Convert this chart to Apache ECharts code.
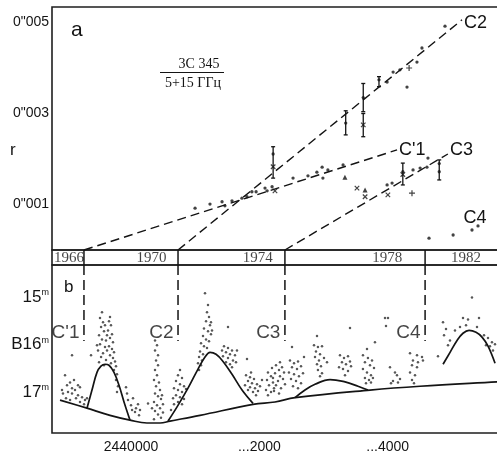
<!DOCTYPE html>
<html><head><meta charset="utf-8">
<script src="https://cdn.jsdelivr.net/npm/echarts@6/dist/echarts.min.js"></script>
<style>html,body{margin:0;padding:0;background:#fff}#c{width:497px;height:452px}</style>
</head><body><div id="c"></div>
<script>
// ---------- Panel a: r (mas) vs epoch (year) ----------
const rTicks = [1, 3, 5];
const yearLabels = ['1966', '1970', '1974', '1978', '1982'];
const yearLabelPos = [1966.85, 1970.0, 1974.05, 1979.0, 1982.0];
const ejectionYear = [1967.42, 1971.01, 1975.09, 1980.44];
const componentNames = ["C'1", 'C2', 'C3', 'C4'];

const lineC1 = [[1967.42, 0], [1979.37, 2.20]];
const lineC2 = [[1971.01, 0], [1981.85, 5.06]];
const lineC3 = [[1975.09, 0], [1981.31, 2.11]];

const dotsA = [
  [1971.66,0.92],[1972.23,1.01],[1972.69,1.06],[1972.80,0.97],[1973.07,1.08],[1973.45,1.14],
  [1973.64,1.17],[1973.83,1.28],[1973.99,1.28],[1974.33,1.36],[1974.41,1.30],[1974.60,1.39],
  [1975.40,1.58],[1975.97,1.63],[1976.31,1.71],[1976.51,1.82],[1976.54,1.58],[1976.73,1.76],[1977.31,1.87],
  [1978.99,3.69],[1979.22,3.91],[1979.48,3.96],[1980.13,4.13],[1979.75,3.58],[1980.32,4.44],[1981.20,4.92],
  [1978.99,1.43],[1979.18,1.47],[1979.98,1.76],[1980.25,1.80],[1980.51,1.82],[1980.55,2.02],
  [1980.59,0.26],[1981.51,0.33],[1982.23,0.44],[1982.46,0.53],
  [1974.64,2.11],[1977.41,2.79],[1978.08,3.35],[1978.68,3.74],[1979.59,1.72],[1980.98,1.90],[1980.98,1.72]
];
const crossesA = [[1974.71,1.30],[1977.84,1.36],[1978.15,1.17],[1979.02,1.21],[1974.64,1.83],[1978.08,2.75],[1979.59,1.66]];
const plusA = [[1979.83,4.00],[1979.94,1.25]];
const trianglesA = [[1977.38,1.60],[1978.15,1.32]];
const errorBars = [
  [1974.64,1.58,2.27],[1977.41,2.53,3.06],[1978.08,3.04,3.66],[1978.08,2.49,3.00],
  [1978.68,3.59,3.81],[1979.59,1.43,1.91],[1980.98,1.54,1.98]
];

// ---------- Panel b: B magnitude vs JD - 2440000 ----------
const magTicks = [15, 16, 17];
const jdTicks = [0, 2000, 4000];
const jdTickLabels = ['2440000', '...2000', '...4000'];

const lightCurve = [
  [-1028,16.64],[-950,16.79],[-997,16.85],[-919,16.91],[-982,16.99],[-1060,17.02],[-919,17.02],[-873,16.95],
  [-795,16.89],[-826,17.06],[-763,17.10],[-717,17.16],[-686,17.12],[-1013,17.12],[-950,17.16],[-857,17.12],
  [-795,17.20],[-732,17.25],[-1075,16.95],[-888,16.74],[-826,16.85],[-919,16.22],[-623,16.22],
  [-452,15.32],[-327,15.42],[-483,15.44],[-436,15.53],[-467,15.63],[-421,15.72],[-498,15.80],[-452,15.89],
  [-483,15.99],[-405,16.05],[-514,16.12],[-436,16.18],[-467,16.26],[-390,16.32],[-498,16.37],[-421,16.43],
  [-343,15.51],[-312,15.59],[-358,15.70],[-296,15.78],[-327,15.86],[-281,15.95],[-343,16.03],[-296,16.09],
  [-265,16.16],[-327,16.22],[-281,16.28],[-249,16.35],[-312,16.39],[-234,16.45],[-265,16.53],[-218,16.62],
  [-234,16.74],[-203,16.87],[-218,16.99],[-390,15.91],[-374,16.12],[-530,16.01],[-405,15.59],[-374,15.80],
  [-62,17.02],[-47,17.16],[0,17.27],[31,17.12],[78,17.33],[62,17.41],[109,17.25],[140,17.37],[125,17.48],
  [16,17.37],[-78,16.89],[265,17.23],
  [374,15.91],[405,16.01],[374,16.12],[421,16.22],[390,16.33],[421,16.43],[374,16.53],[405,16.64],[358,16.74],
  [436,16.79],[390,16.87],[452,16.95],[374,17.02],[421,17.08],[467,17.14],[358,17.20],[405,17.27],[452,17.33],
  [498,17.25],[374,17.39],[421,17.46],[467,17.53],[358,17.56],[498,17.42],[327,17.33],[483,17.06],
  [763,16.53],[732,16.64],[795,16.70],[701,16.76],[763,16.83],[826,16.87],[670,16.91],[732,16.95],[795,16.99],
  [857,16.93],[701,17.06],[763,17.10],[826,17.14],[655,17.12],[732,17.20],[795,17.25],[670,17.25],[623,17.37],
  [1153,14.92],[1200,15.17],[1184,15.32],[1215,15.42],[1169,15.51],[1231,15.59],[1137,15.66],[1200,15.72],
  [1246,15.78],[1122,15.82],[1169,15.89],[1215,15.93],[1091,15.97],[1137,16.03],[1184,16.07],[1075,16.14],
  [1122,16.20],[1060,16.26],[1106,16.33],[1044,16.39],[1262,15.70],[1091,16.43],[1060,16.53],[1246,15.53],
  [1511,15.63],
  [1449,16.03],[1511,16.07],[1574,16.12],[1480,16.16],[1542,16.20],[1620,16.22],[1433,16.24],[1511,16.28],
  [1589,16.33],[1480,16.37],[1542,16.41],[1636,16.37],[1574,16.47],[1651,16.12],[1418,16.12],
  [1807,16.30],
  [1792,16.64],[1854,16.68],[1916,16.72],[1823,16.76],[1885,16.81],[1963,16.83],[1776,16.85],[1854,16.89],
  [1932,16.91],[2010,16.87],[1823,16.95],[1901,16.99],[1979,16.97],[1948,17.06],[1870,16.58],[2041,16.74],
  [2134,16.58],[2181,16.66],[2119,16.74],[2212,16.79],[2150,16.85],[2228,16.91],[2103,16.95],[2181,16.99],[2134,17.06],
  [2197,16.49],[2259,16.43],[2306,16.53],[2353,16.47],[2244,16.60],[2321,16.66],[2384,16.58],[2212,16.70],
  [2290,16.76],[2368,16.72],[2259,16.85],[2337,16.91],[2228,16.97],[2306,17.02],[2399,16.83],[2321,16.37],
  [2477,16.33],[2540,16.39],[2602,16.35],[2508,16.47],[2586,16.51],[2649,16.45],[2461,16.58],[2540,16.62],
  [2617,16.66],[2680,16.60],[2493,16.72],[2571,16.76],[2649,16.81],[2524,16.87],[2602,16.91],[2508,16.05],[2695,16.26],
  [2898,15.82],[2851,16.01],[2913,16.05],[2976,16.03],[2882,16.14],[2945,16.20],[2867,16.26],[2929,16.33],
  [3007,16.28],[2898,16.41],[2960,16.45],[2913,16.53],[2976,16.60],[2945,16.66],[3054,16.37],
  [3412,15.65],
  [3256,16.22],[3319,16.28],[3381,16.24],[3287,16.37],[3350,16.41],[3412,16.35],[3241,16.47],[3303,16.51],
  [3381,16.55],[3334,16.64],[3428,16.45],
  [3801,15.95],[3677,16.09],[3614,16.22],[3692,16.28],[3755,16.33],[3645,16.37],[3724,16.43],[3786,16.49],
  [3614,16.51],[3677,16.58],[3739,16.64],[3645,16.70],[3708,16.74],[3770,16.70],[3661,16.81],[3739,16.79],
  [3957,15.44],[4004,15.44],[3973,15.61],
  [4035,16.47],[4113,16.58],[4144,16.64],[4082,16.76],[4160,16.79],[4051,16.81],[4191,16.72],
  [4347,16.18],[4456,16.22],[4534,16.26],[4393,16.33],[4471,16.37],[4549,16.33],[4378,16.43],[4456,16.47],
  [4347,16.58],[4425,16.64],[4378,16.74],[4409,16.81],
  [5313,15.01],[5173,15.44],[5251,15.47],[5422,15.44],[5220,15.59],[4861,15.53],[4908,15.67],[4877,15.80],
  [4939,16.01],[4783,16.24],[5048,15.70],[5126,15.63],[5391,15.63],[5500,15.80],[5562,15.86],[5624,15.95],
  [5593,16.03],[5671,15.99],[5531,16.01],[5640,16.12],[4970,15.91]
];

const baselineCurve = [[-1106,17.16],[-686,17.33],[-327,17.48],[-16,17.58],[249,17.64],[452,17.64],[608,17.60],
  [1075,17.48],[1901,17.25],[2244,17.20],[2556,17.11],[3724,16.95],[4503,16.87],[5703,16.78],[6108,16.75]];
const flareC1 = [[-686,17.33],[-608,16.95],[-530,16.58],[-468,16.45],[-405,16.41],[-343,16.43],[-265,16.58],
  [-187,16.85],[-109,17.20],[-16,17.58]];
const flareC2 = [[577,17.60],[732,17.27],[888,16.91],[1044,16.51],[1153,16.26],[1231,16.16],[1325,16.20],
  [1434,16.35],[1574,16.62],[1730,16.95],[1901,17.23]];
const flareC3 = [[2556,17.11],[2711,16.95],[2867,16.83],[3101,16.73],[3335,16.78],[3537,16.87],[3693,16.95]];
const flareC4 = [[4862,16.41],[4971,16.16],[5080,15.91],[5173,15.76],[5267,15.70],[5376,15.74],[5469,15.84],
  [5563,16.03],[5672,16.39]];
const markerBottomMag = 15.92;

// ---------- chart ----------
const INK = '#141414';
const SANS = 'Liberation Sans, Arial, sans-serif';
const SERIF = 'Liberation Serif, Times New Roman, serif';
const chart = echarts.init(document.getElementById('c'), null, {renderer: 'canvas'});

function vlineRender(dash, width) {
  return function (params, api) {
    const a = api.coord([api.value(0), api.value(1)]);
    const b = api.coord([api.value(0), api.value(2)]);
    return {type: 'line', shape: {x1: a[0], y1: a[1], x2: b[0], y2: b[1]},
      style: {stroke: INK, lineWidth: width, lineDash: dash}};
  };
}
function errRender(params, api) {
  const x = api.value(0);
  const a = api.coord([x, api.value(1)]);
  const b = api.coord([x, api.value(2)]);
  const st = {stroke: INK, lineWidth: 1.3};
  return {type: 'group', children: [
    {type: 'line', shape: {x1: a[0], y1: a[1], x2: b[0], y2: b[1]}, style: st},
    {type: 'line', shape: {x1: a[0] - 2, y1: a[1], x2: a[0] + 2, y2: a[1]}, style: st},
    {type: 'line', shape: {x1: b[0] - 2, y1: b[1], x2: b[0] + 2, y2: b[1]}, style: st}
  ]};
}
const dashedA = (data, name, offset) => ({
  type: 'line', xAxisIndex: 0, yAxisIndex: 0, data: data, symbol: 'none', silent: true,
  lineStyle: {color: INK, width: 1.4, type: [9, 5]},
  endLabel: {show: true, formatter: name, distance: 2, offset: offset, fontSize: 18, fontFamily: SANS, color: INK}
});
const curveB = (data) => ({
  type: 'line', xAxisIndex: 2, yAxisIndex: 2, data: data, symbol: 'none', smooth: 0.4, silent: true,
  lineStyle: {color: INK, width: 1.7}
});

const gridBase = {left: 52, right: -26.6, show: true, borderColor: '#1e1e1e', borderWidth: 1.6,
  containLabel: false, outerBoundsMode: 'none'};

chart.setOption({
  animation: false,
  backgroundColor: '#fff',
  grid: [
    Object.assign({top: 7, height: 243}, gridBase),
    Object.assign({top: 250, height: 15}, gridBase),
    Object.assign({top: 265, height: 168}, gridBase)
  ],
  xAxis: [
    {gridIndex: 0, type: 'value', min: 1966.2, max: 1984.2, show: false},
    {gridIndex: 1, type: 'value', min: 1966.2, max: 1984.2, show: false},
    {gridIndex: 2, type: 'value', min: -1231, max: 6117, position: 'bottom',
      axisLine: {show: false}, axisTick: {show: false}, splitLine: {show: false},
      axisLabel: {customValues: jdTicks, margin: 7, fontSize: 14, fontFamily: SANS, color: INK,
        formatter: v => jdTickLabels[jdTicks.indexOf(v)]}},
    {gridIndex: 2, type: 'value', min: 1966.2, max: 1984.2, show: false}
  ],
  yAxis: [
    {gridIndex: 0, type: 'value', min: 0, max: 5.341,
      axisLine: {show: false}, axisTick: {show: false}, splitLine: {show: false},
      axisLabel: {customValues: rTicks, margin: 3, fontSize: 14, fontFamily: SANS, color: INK,
        formatter: v => '0"00' + v}},
    {gridIndex: 1, type: 'value', min: 0, max: 1, show: false},
    {gridIndex: 2, type: 'value', inverse: true, min: 14.33, max: 17.85,
      axisLine: {show: false}, axisTick: {show: false}, splitLine: {show: false},
      axisLabel: {customValues: magTicks, margin: 3, color: INK,
        formatter: v => '{n|' + (v === 16 ? 'B16' : v) + '}{m|m}',
        rich: {n: {fontSize: 17, fontFamily: SANS, color: INK},
               m: {fontSize: 9, fontFamily: SANS, color: INK, padding: [0, 0, 9, 0]}}}}
  ],
  series: [
    dashedA(lineC1, "C'1", [0, 0]),
    dashedA(lineC2, 'C2', [0, 3]),
    dashedA(lineC3, 'C3', [0, -4]),
    {type: 'custom', xAxisIndex: 0, yAxisIndex: 0, renderItem: errRender, data: errorBars, silent: true},
    {type: 'scatter', xAxisIndex: 0, yAxisIndex: 0, data: dotsA, symbolSize: 3.3, itemStyle: {color: INK}, silent: true},
    {type: 'scatter', xAxisIndex: 0, yAxisIndex: 0, data: crossesA, symbol: 'path://M0,0L10,10M10,0L0,10',
      symbolSize: 4.5, itemStyle: {color: 'rgba(0,0,0,0)', borderColor: INK, borderWidth: 1.2}, silent: true},
    {type: 'scatter', xAxisIndex: 0, yAxisIndex: 0, data: plusA, symbol: 'path://M5,0L5,10M0,5L10,5',
      symbolSize: 6, itemStyle: {color: 'rgba(0,0,0,0)', borderColor: INK, borderWidth: 1.2}, silent: true},
    {type: 'scatter', xAxisIndex: 0, yAxisIndex: 0, data: trianglesA, symbol: 'triangle', symbolSize: 5,
      itemStyle: {color: INK}, silent: true},
    // strip: ejection separators and year labels
    {type: 'custom', xAxisIndex: 1, yAxisIndex: 1, renderItem: vlineRender(null, 1.5), silent: true,
      data: ejectionYear.map(e => [e, 0, 1])},
    {type: 'scatter', xAxisIndex: 1, yAxisIndex: 1, symbolSize: 1, itemStyle: {color: 'rgba(0,0,0,0)'}, silent: true,
      data: yearLabelPos.map(p => [p, 0.45]),
      label: {show: true, position: 'inside', fontSize: 15, fontFamily: SERIF, color: INK,
        formatter: p => yearLabels[p.dataIndex]}},
    // panel b
    {type: 'custom', xAxisIndex: 3, yAxisIndex: 2, renderItem: vlineRender([10, 5], 1.5), silent: true,
      data: ejectionYear.map(e => [e, 14.33, markerBottomMag])},
    {type: 'scatter', xAxisIndex: 3, yAxisIndex: 2, symbolSize: 1, itemStyle: {color: 'rgba(0,0,0,0)'}, silent: true,
      data: ejectionYear.map(e => [e, markerBottomMag]),
      label: {show: true, position: 'left', distance: 4, offset: [0, -8], fontSize: 19, fontFamily: SANS, color: INK,
        formatter: p => componentNames[p.dataIndex]}},
    {type: 'scatter', xAxisIndex: 2, yAxisIndex: 2, data: lightCurve, symbolSize: 2.5,
      itemStyle: {color: '#2e2e2e'}, silent: true},
    curveB(baselineCurve), curveB(flareC1), curveB(flareC2), curveB(flareC3), curveB(flareC4)
  ],
  graphic: [
    {type: 'text', left: 71, top: 20, style: {text: 'a', font: '21px ' + SANS, fill: INK}},
    {type: 'text', left: 64, top: 279, style: {text: 'b', font: '17px ' + SANS, fill: INK}},
    {type: 'text', left: 10, top: 142, style: {text: 'r', font: '17px ' + SANS, fill: INK}},
    {type: 'text', x: 199, y: 64, style: {text: '3C 345', font: '14px ' + SERIF, fill: INK, align: 'center', verticalAlign: 'middle'}},
    {type: 'line', shape: {x1: 160, y1: 72.5, x2: 224, y2: 72.5}, style: {stroke: INK, lineWidth: 1}},
    {type: 'text', x: 193, y: 83, style: {text: '5+15 ГГц', font: '14px ' + SERIF, fill: INK, align: 'center', verticalAlign: 'middle'}},
    {type: 'text', x: 475, y: 218, style: {text: 'C4', font: '18px ' + SANS, fill: INK, align: 'center', verticalAlign: 'middle'}}
  ]
});
</script></body></html>
